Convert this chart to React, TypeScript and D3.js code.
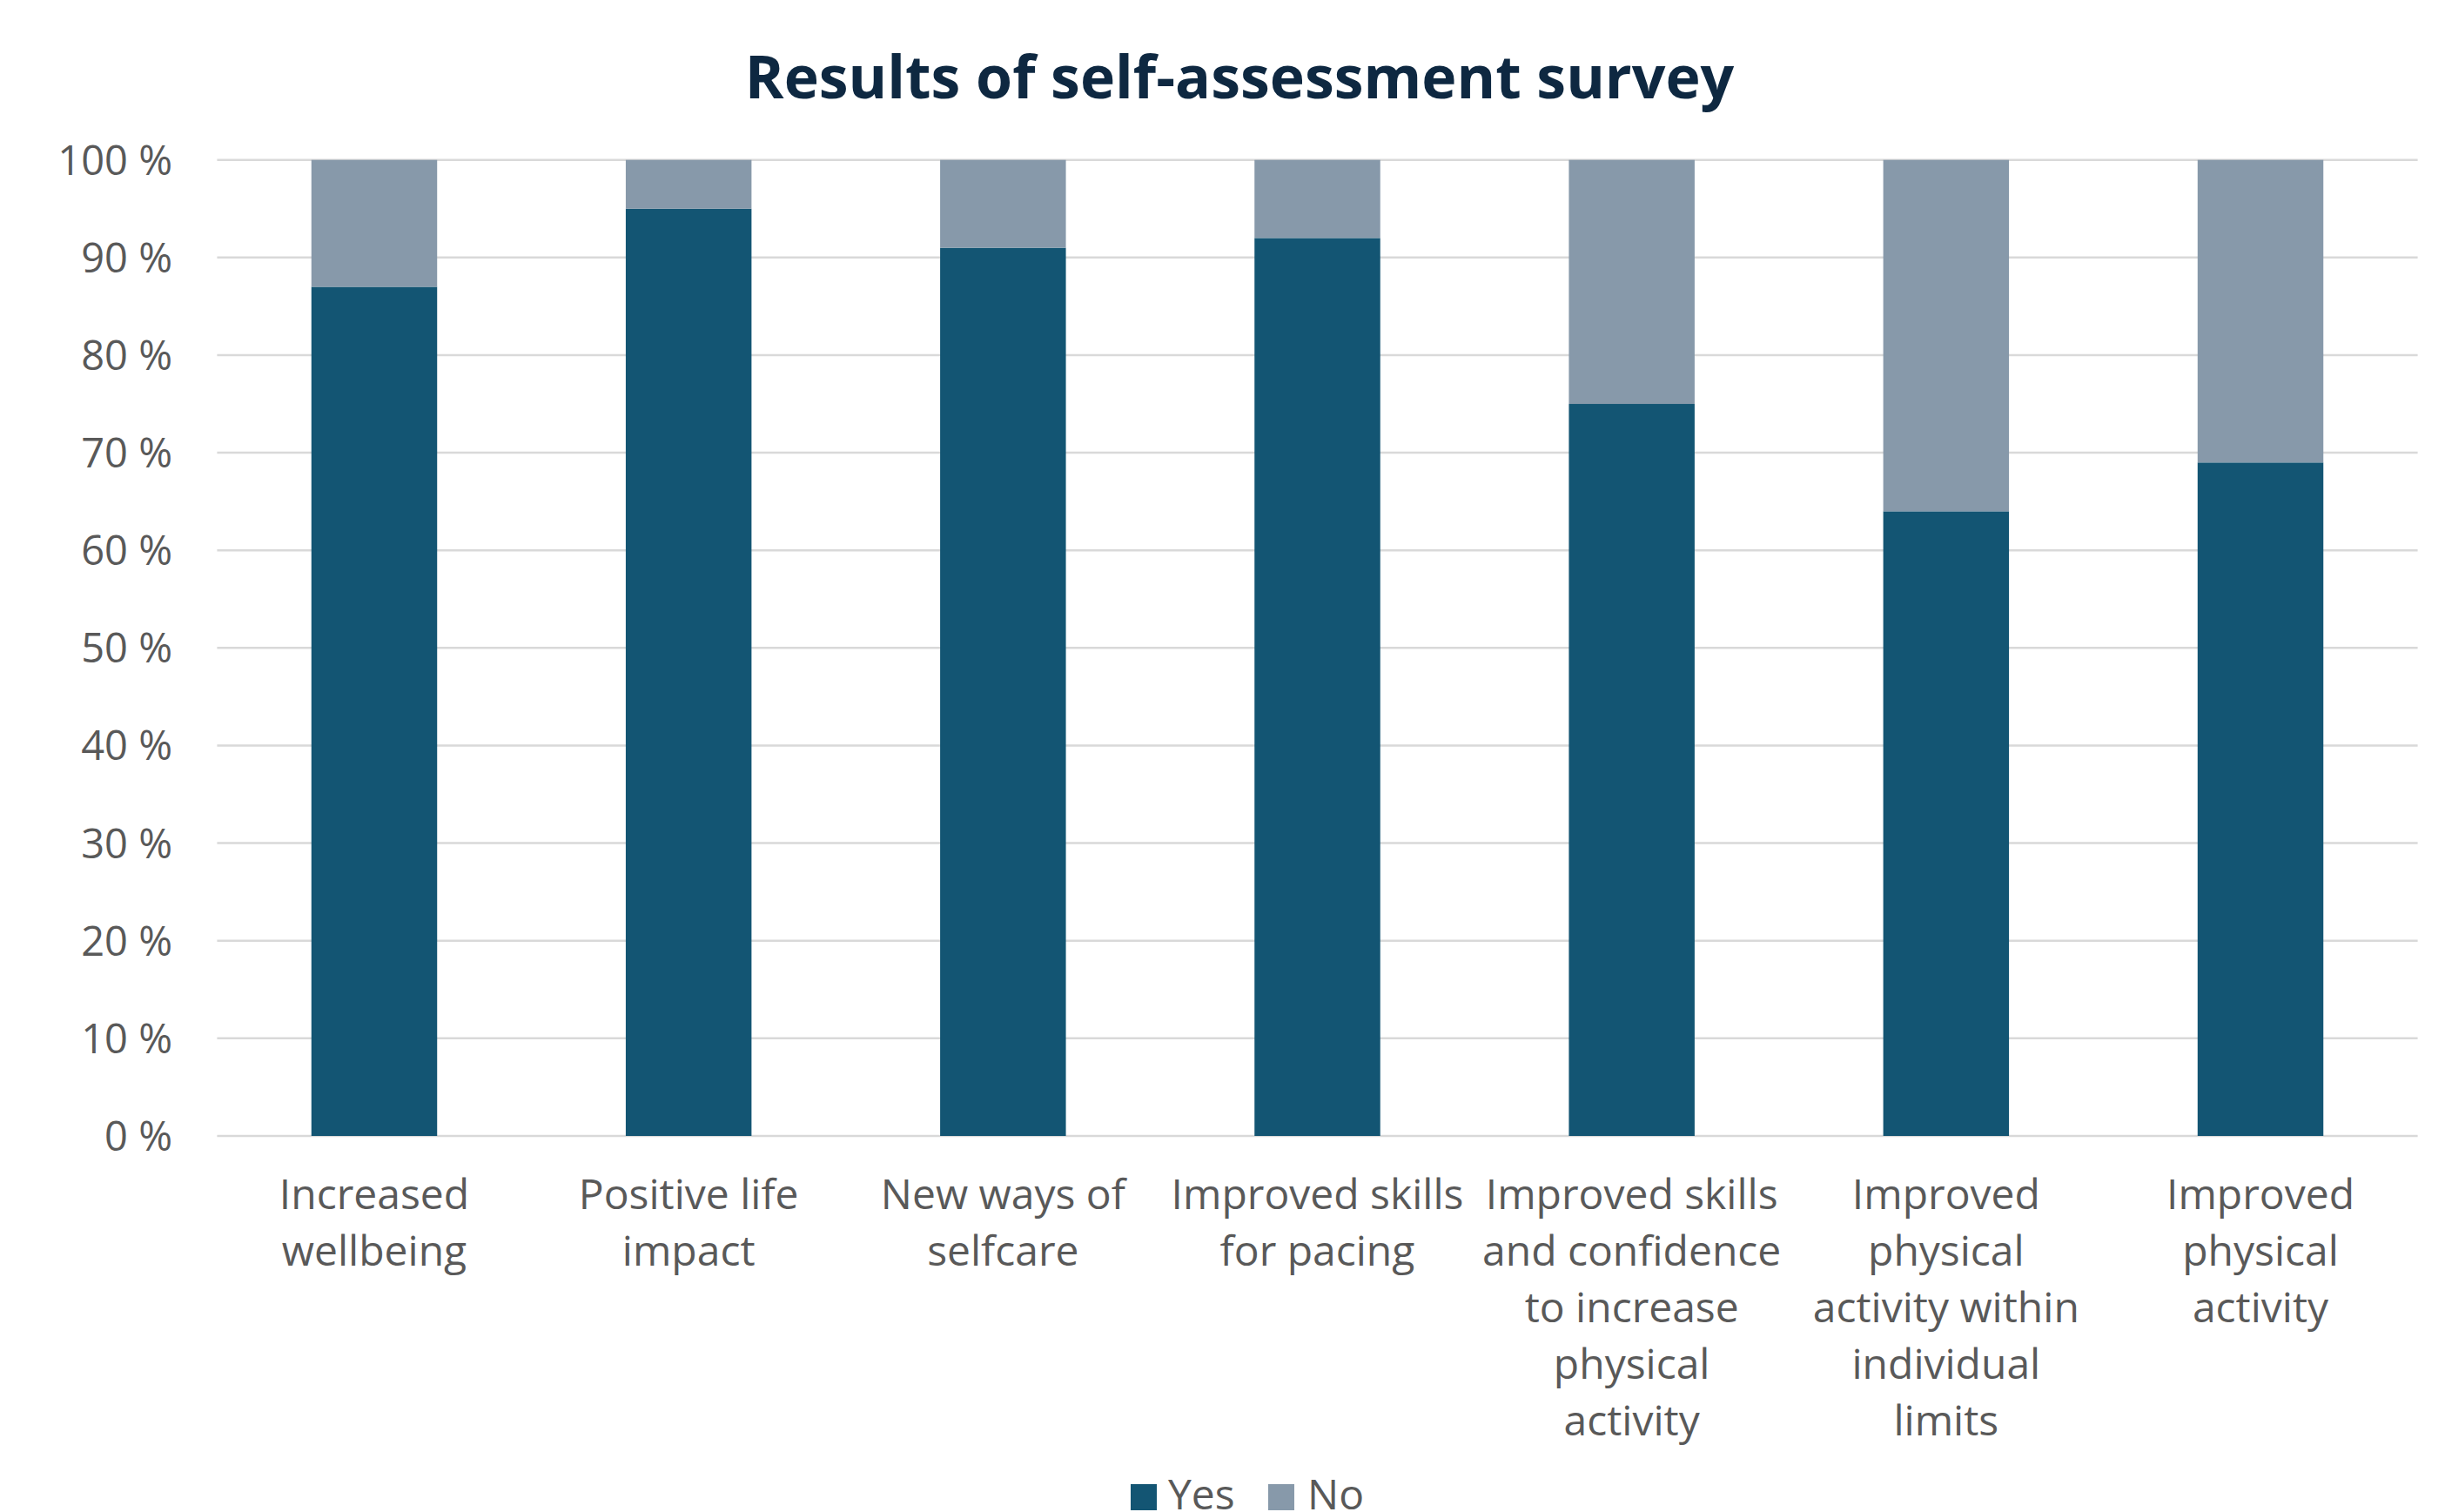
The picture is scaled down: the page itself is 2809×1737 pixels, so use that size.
import React from "react";
import * as d3 from "d3";

const categories: string[][] = [
  ["Increased", "wellbeing"],
  ["Positive life", "impact"],
  ["New ways of", "selfcare"],
  ["Improved skills", "for pacing"],
  ["Improved skills", "and confidence", "to increase", "physical", "activity"],
  ["Improved", "physical", "activity within", "individual", "limits"],
  ["Improved", "physical", "activity"],
];
const yesValues = [87, 95, 91, 92, 75, 64, 69];
const noValues = [13, 5, 9, 8, 25, 36, 31];
const yTicks = [0, 10, 20, 30, 40, 50, 60, 70, 80, 90, 100];
const seriesNames = ["Yes", "No"];
const seriesColors = ["#135573", "#8799AA"];
const title = "Results of self-assessment survey";

const W = 2809;
const H = 1737;
const left = 249.4;
const right = 2777.6;
const top = 183.7;
const bottom = 1305;
const FONT = "'Open Sans', 'DejaVu Sans', sans-serif";

export default function App() {
  const keys = categories.map((c) => c.join(" "));
  const x = d3
    .scaleBand<string>()
    .domain(keys)
    .range([left, right])
    .paddingInner(0.6)
    .paddingOuter(0.3);
  const y = d3.scaleLinear().domain([0, 100]).range([bottom, top]);

  const stackData = keys.map((k, i) => ({ key: k, Yes: yesValues[i], No: noValues[i] }));
  const stacked = d3.stack<any>().keys(seriesNames)(stackData);

  return (
    <svg
      width={W}
      height={H}
      style={{ position: "absolute", left: 0, top: 0, background: "#fff" }}
      fontFamily={FONT}
    >
      <rect x={0} y={0} width={W} height={H} fill="#fff" />
      <text
        x={1424}
        y={113}
        textAnchor="middle"
        fontSize={68}
        fontWeight={700}
        fill="#0E2841"
      >
        {title}
      </text>
      {yTicks.map((t) => (
        <g key={t}>
          <line
            x1={left}
            x2={right}
            y1={y(t)}
            y2={y(t)}
            stroke="#D9D9D9"
            strokeWidth={2.5}
          />
          <text
            x={198}
            y={y(t)}
            dy="0.36em"
            textAnchor="end"
            fontSize={47}
            fill="#595959"
          >
            {`${t} %`}
          </text>
        </g>
      ))}
      {stacked.map((s, si) => (
        <g key={s.key} fill={seriesColors[si]}>
          {s.map((d: any, i: number) => (
            <rect
              key={i}
              x={x(keys[i])}
              width={x.bandwidth()}
              y={y(d[1])}
              height={y(d[0]) - y(d[1])}
            />
          ))}
        </g>
      ))}
      {categories.map((lines, i) => (
        <text
          key={i}
          x={(x(keys[i]) as number) + x.bandwidth() / 2}
          y={1389}
          textAnchor="middle"
          fontSize={48}
          fill="#595959"
        >
          {lines.map((ln, j) => (
            <tspan key={j} x={(x(keys[i]) as number) + x.bandwidth() / 2} y={1389 + j * 65}>
              {ln}
            </tspan>
          ))}
        </text>
      ))}
      <g>
        <rect x={1299} y={1705} width={30} height={30} fill={seriesColors[0]} />
        <text x={1342} y={1734} fontSize={48} fill="#595959">
          {seriesNames[0]}
        </text>
        <rect x={1457} y={1705} width={30} height={30} fill={seriesColors[1]} />
        <text x={1502} y={1734} fontSize={48} fill="#595959">
          {seriesNames[1]}
        </text>
      </g>
    </svg>
  );
}
